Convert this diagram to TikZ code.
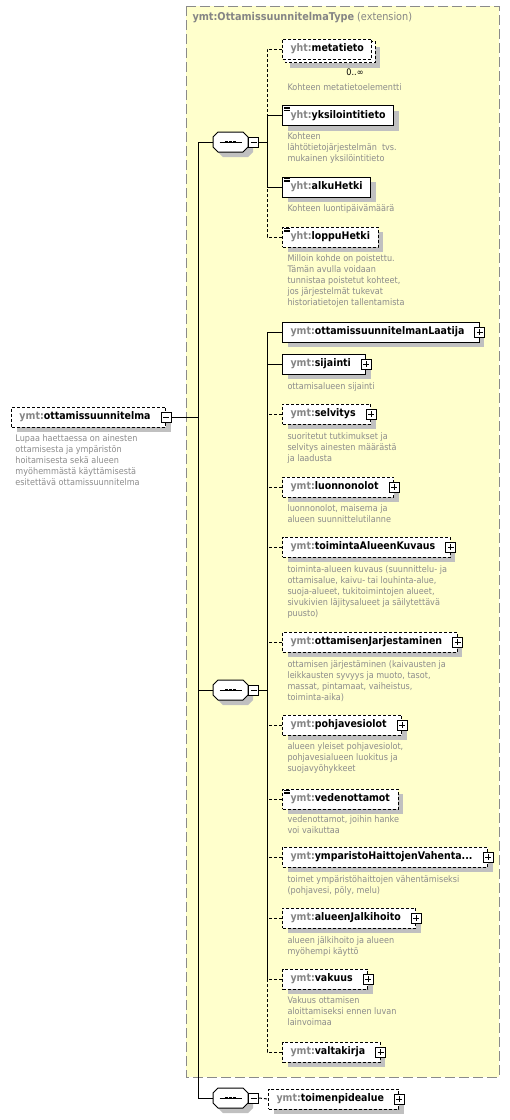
\documentclass[tikz,border=0pt]{standalone}
\usepackage{fontspec}
\setmainfont{DejaVu Sans Condensed}
\usetikzlibrary{positioning, shadows, backgrounds}

\definecolor{typefill}{HTML}{FFFFCC}
\definecolor{typeborder}{HTML}{8A8A8A}
\definecolor{prefixgray}{HTML}{858585}
\definecolor{descgray}{HTML}{8C8C8C}
\definecolor{shadowgray}{HTML}{C0C0C0}

\newcommand{\ymt}[1]{\textcolor{prefixgray}{ymt:}#1}
\newcommand{\yht}[1]{\textcolor{prefixgray}{yht:}#1}
% octagon of a sequence compositor
\newcommand{\octpath}[1]{([xshift=5pt]#1.north west) -- ([xshift=-5pt]#1.north east) -- ([yshift=-5pt]#1.north east)
  -- ([yshift=5pt]#1.south east) -- ([xshift=-5pt]#1.south east) -- ([xshift=5pt]#1.south west)
  -- ([yshift=5pt]#1.south west) -- ([yshift=-5pt]#1.north west) -- cycle}

\tikzset{
  typebox/.style={draw=typeborder, fill=typefill, line width=1pt, dash pattern=on 10pt off 4pt},
  typetitle/.style={anchor=west, inner sep=0pt, text=prefixgray, font=\fontsize{10.8}{13}\selectfont},
  shadowed/.style={drop shadow={shadow xshift=5pt, shadow yshift=-5pt, fill=shadowgray, opacity=1}},
  elembase/.style={draw, fill=white, anchor=west, minimum height=20pt, inner xsep=8pt, inner ysep=0pt,
    font=\bfseries\fontsize{10.5}{12}\selectfont},
  elem/.style={elembase, shadowed},
  optline/.style={dash pattern=on 3pt off 2pt},
  optelem/.style={elem, optline},
  haschildren/.style={execute at end node={\hspace{7pt}}},
  simpletype/.style={path picture={
    \foreach \k in {0,1,2}
      \draw[solid, line width=0.6pt] ([xshift=1.5pt, yshift={-1.5pt-\k*1.6pt}]path picture bounding box.north west) -- ++(6pt,0);}},
  desc/.style={anchor=north west, inner sep=0pt, align=left, text=descgray, font=\fontsize{9}{11}\selectfont},
  signbox/.style={draw, solid, fill=white, minimum size=10pt, inner sep=0pt},
  expbox/.style={signbox, path picture={
    \draw[solid] ([xshift=2pt]path picture bounding box.west) -- ([xshift=-2pt]path picture bounding box.east);
    \draw[solid] ([yshift=-2pt]path picture bounding box.north) -- ([yshift=2pt]path picture bounding box.south);}},
  colbox/.style={signbox, path picture={
    \draw[solid] ([xshift=2pt]path picture bounding box.west) -- ([xshift=-2pt]path picture bounding box.east);}},
  seqbox/.style={minimum width=34pt, minimum height=19pt, inner sep=0pt},
}

\begin{document}
\begin{tikzpicture}[x=1pt, y=-1pt, line width=1pt]
\useasboundingbox (0,0) rectangle (510,1120);

% complex type
\begin{scope}[on background layer]
\draw[typebox] (186,6) rectangle (499,1077);
\end{scope}
\node[typetitle] (title) at (192,18) {\textbf{ymt:OttamissuunnitelmaType} (extension)};

% root element
\node[optelem, haschildren] (root) at (11,417) {\ymt{ottamissuunnitelma}};
\node[colbox] (root-m) at (root.east) {};
\node[desc] (root-d) at (15,434) {Lupaa haettaessa on ainesten\\ottamisesta ja ympäristön\\hoitamisesta sekä alueen\\myöhemmästä käyttämisestä\\esitettävä ottamissuunnitelma};

% sequences
\node[seqbox] (seqa) at (230.5,142) {};
\node[seqbox] (seqb) at (230.5,690) {};
\node[seqbox] (seqc) at (230.5,1098) {};
\foreach \s in {seqa, seqb, seqc} {
  \draw[fill=white, shadowed] \octpath{\s};
  \draw ([xshift=-11pt]\s.center) -- ([xshift=11pt]\s.center);
  \foreach \k in {-4,0,4}
    \fill ([xshift=\k pt]\s.center) +(-1.4,-1.4) rectangle +(1.4,1.4);
}
\node[colbox, right=0pt of seqa] (seqa-m) {};
\node[colbox, right=0pt of seqb] (seqb-m) {};
\node[colbox, right=0pt of seqc] (seqc-m) {};

\coordinate (trunk) at (198,417);
\coordinate (bra) at (267,142);
\coordinate (brb) at (267,690);
\draw (root-m.east) -- (trunk);
\draw (seqa.west) -| (trunk);
\draw (seqb.west) -| (trunk);
\draw (seqc.west) -| (trunk);
\draw (seqa-m.east) -- (bra);
\draw (seqb-m.east) -- (brb);

% yht elements
\node[elembase, optline] (metatieto) at (282,49) {\yht{metatieto}};
\begin{scope}[on background layer]
\draw[optline, fill=white, shadowed] ([shift={(3,3)}]metatieto.north west) rectangle ([shift={(3,3)}]metatieto.south east);
\end{scope}
\node[font=\fontsize{9}{11}\selectfont, inner sep=0pt] (metatieto-o) at (355,72) {0..∞};
\node[desc] (metatieto-d) at (287,83) {Kohteen metatietoelementti};
\node[elem, simpletype] (yksilointitieto) at (282,115.5) {\yht{yksilointitieto}};
\node[desc] (yksilointitieto-d) at (287,132) {Kohteen\\lähtötietojärjestelmän\ \ tvs.\\mukainen yksilöintitieto};
\node[elem, simpletype] (alkuHetki) at (282,187) {\yht{alkuHetki}};
\node[desc] (alkuHetki-d) at (287,204) {Kohteen luontipäivämäärä};
\node[optelem, simpletype] (loppuHetki) at (282,237) {\yht{loppuHetki}};
\node[desc] (loppuHetki-d) at (287,254) {Milloin kohde on poistettu.\\Tämän avulla voidaan\\tunnistaa poistetut kohteet,\\jos järjestelmät tukevat\\historiatietojen tallentamista};

\draw[optline] (metatieto.west) -| (bra);
\draw (yksilointitieto.west) -| (bra);
\draw (alkuHetki.west) -| (bra);
\draw[optline] (loppuHetki.west) -| (bra);

% ymt elements
\node[elem, haschildren] (laatija) at (282,332) {\ymt{ottamissuunnitelmanLaatija}};
\node[expbox] (laatija-p) at (laatija.east) {};
\node[elem, haschildren] (sijainti) at (282,364) {\ymt{sijainti}};
\node[expbox] (sijainti-p) at (sijainti.east) {};
\node[desc] (sijainti-d) at (287,382) {ottamisalueen sijainti};
\node[optelem, haschildren] (selvitys) at (282,414) {\ymt{selvitys}};
\node[expbox] (selvitys-p) at (selvitys.east) {};
\node[desc] (selvitys-d) at (287,432) {suoritetut tutkimukset ja\\selvitys ainesten määrästä\\ja laadusta};
\node[optelem, haschildren] (luonnonolot) at (282,487) {\ymt{luonnonolot}};
\node[expbox] (luonnonolot-p) at (luonnonolot.east) {};
\node[desc] (luonnonolot-d) at (287,504) {luonnonolot, maisema ja\\alueen suunnittelutilanne};
\node[optelem, haschildren] (kuvaus) at (282,547) {\ymt{toimintaAlueenKuvaus}};
\node[expbox] (kuvaus-p) at (kuvaus.east) {};
\node[desc] (kuvaus-d) at (287,565) {toiminta-alueen kuvaus (suunnittelu- ja\\ottamisalue, kaivu- tai louhinta-alue,\\suoja-alueet, tukitoimintojen alueet,\\sivukivien läjitysalueet ja säilytettävä\\puusto)};
\node[optelem, haschildren] (jarjestaminen) at (282,642) {\ymt{ottamisenJarjestaminen}};
\node[expbox] (jarjestaminen-p) at (jarjestaminen.east) {};
\node[desc] (jarjestaminen-d) at (287,660) {ottamisen järjestäminen (kaivausten ja\\leikkausten syvyys ja muoto, tasot,\\massat, pintamaat, vaiheistus,\\toiminta-aika)};
\node[optelem, haschildren] (pohjavesiolot) at (282,725) {\ymt{pohjavesiolot}};
\node[expbox] (pohjavesiolot-p) at (pohjavesiolot.east) {};
\node[desc] (pohjavesiolot-d) at (287,742) {alueen yleiset pohjavesiolot,\\pohjavesialueen luokitus ja\\suojavyöhykkeet};
\node[optelem, simpletype] (vedenottamot) at (282,799) {\ymt{vedenottamot}};
\node[desc] (vedenottamot-d) at (287,815) {vedenottamot, joihin hanke\\voi vaikuttaa};
\node[optelem, haschildren] (haitat) at (282,857) {\ymt{ymparistoHaittojenVahenta...}};
\node[expbox] (haitat-p) at (haitat.east) {};
\node[desc] (haitat-d) at (287,875) {toimet ympäristöhaittojen vähentämiseksi\\(pohjavesi, pöly, melu)};
\node[optelem, haschildren] (jalkihoito) at (282,918) {\ymt{alueenJalkihoito}};
\node[expbox] (jalkihoito-p) at (jalkihoito.east) {};
\node[desc] (jalkihoito-d) at (287,936) {alueen jälkihoito ja alueen\\myöhempi käyttö};
\node[optelem, haschildren] (vakuus) at (282,979) {\ymt{vakuus}};
\node[expbox] (vakuus-p) at (vakuus.east) {};
\node[desc] (vakuus-d) at (287,996) {Vakuus ottamisen\\aloittamiseksi ennen luvan\\lainvoimaa};
\node[optelem, haschildren] (valtakirja) at (282,1052) {\ymt{valtakirja}};
\node[expbox] (valtakirja-p) at (valtakirja.east) {};

\draw (laatija.west) -| (brb);
\draw (sijainti.west) -| (brb);
\foreach \n in {selvitys, luonnonolot, kuvaus, jarjestaminen, pohjavesiolot, vedenottamot, haitat, jalkihoito, vakuus, valtakirja}
  \draw[optline] (\n.west) -| (brb);

% outside the type
\node[optelem, haschildren] (toimenpidealue) at (268,1099) {\ymt{toimenpidealue}};
\node[expbox] (toimenpidealue-p) at (toimenpidealue.east) {};
\draw[optline] (seqc-m.east) -- (toimenpidealue.west);
\end{tikzpicture}
\end{document}
